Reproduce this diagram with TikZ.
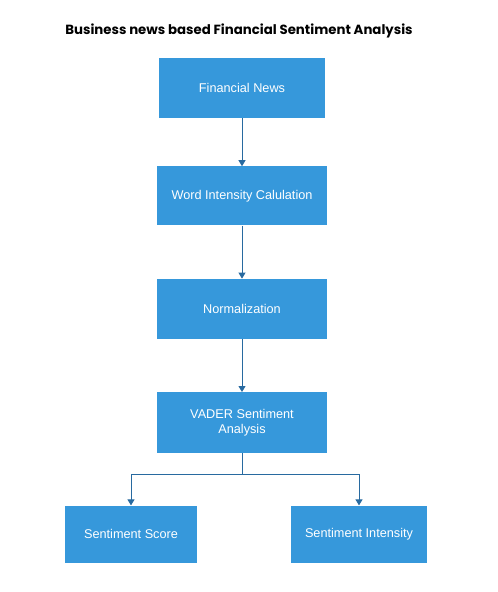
\documentclass[tikz,border=0pt]{standalone}
\usepackage{fontspec}
\setmainfont{Liberation Sans}
\newfontfamily\titlefont{Poppins}
\usetikzlibrary{arrows.meta,positioning}
\definecolor{flow-blue}{RGB}{54, 152, 219}
\definecolor{flow-line}{RGB}{40, 106, 160}

\begin{document}
\begin{tikzpicture}[
        x=1pt, y=1pt,
        node distance=53pt,
        box/.style={rectangle, fill=flow-blue, text=white, minimum height=60pt, minimum width=170pt, align=center, inner sep=0pt, font=\fontsize{12.7}{15.5}\selectfont},
        arrow/.style={-{Triangle[width=7pt,length=6pt]}, flow-line, line width=0.9pt}
    ]
        \useasboundingbox (0,0) rectangle (498,-592);
        % Title
        \node[font=\titlefont\bfseries\fontsize{13.3}{15}\selectfont] (title) at (239,-30.5) {Business news based Financial Sentiment Analysis};

        % Main flow nodes
        \node[box, minimum width=166pt] (news) at (242,-88) {Financial News};
        \node[box, below=48pt of news, minimum height=59pt] (intensity) {Word Intensity Calulation};
        \node[box, below=of intensity] (norm) {Normalization};
        \node[box, below=of norm, minimum height=61pt] (vader) {VADER Sentiment\\Analysis};
        \node[box, below=52pt of vader.south, anchor=north, xshift=-111pt, minimum width=132pt, minimum height=57pt] (score) {Sentiment Score};
        \node[box, below=52pt of vader.south, anchor=north, xshift=117pt, minimum width=136pt, minimum height=57pt] (sentint) {Sentiment Intensity};

        % Forward arrows
        \draw[arrow] (news) -- (intensity);
        \draw[arrow] (intensity) -- (norm);
        \draw[arrow] (norm) -- (vader);

        % Split arrows
        \coordinate (split) at ([yshift=-21pt]vader.south);
        \draw[arrow] (vader.south) -- (split) -| (score.north);
        \draw[arrow] (split) -| (sentint.north);
    \end{tikzpicture}
\end{document}
